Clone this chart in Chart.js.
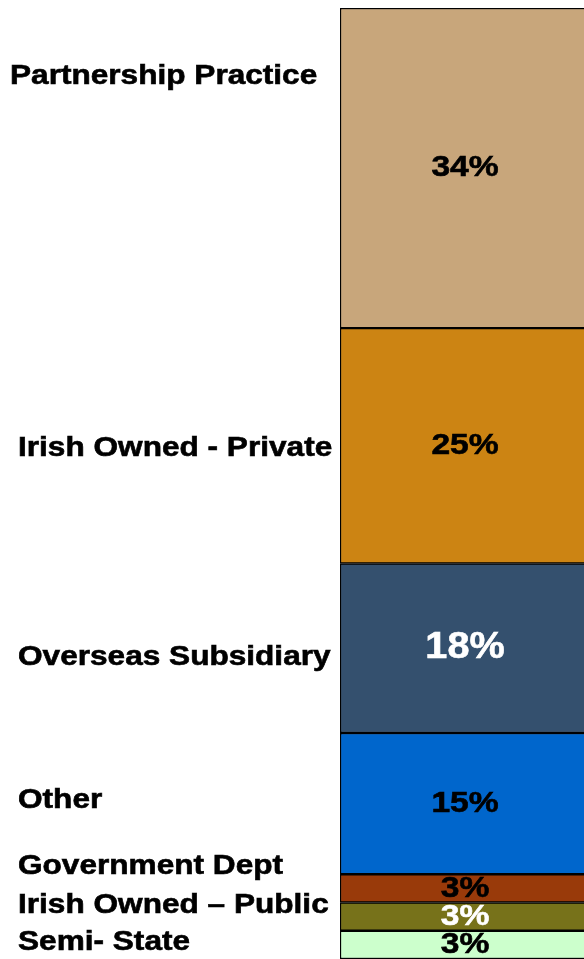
<!DOCTYPE html>
<html>
<head>
<meta charset="utf-8">
<script src="https://cdn.jsdelivr.net/npm/chart.js@4"></script>
<style>
    html, body { margin: 0; padding: 0; background: #ffffff; overflow: hidden; }
    .wrap { width: 600px; height: 959px; position: relative; }
</style>
</head>
<body>
<div class="wrap"><canvas id="shareChart" width="600" height="959"></canvas></div>
<script>
    // top to bottom
    const categories = ["Partnership Practice", "Irish Owned - Private", "Overseas Subsidiary", "Other", "Government Dept", "Irish Owned \u2013 Public", "Semi- State"];
    const shares = [34, 25, 18, 15, 3, 3, 3];
    const segmentColours = ["#c8a67b", "#cc8413", "#34506e", "#0066cc", "#993a0a", "#77721a", "#ccffcc"];
    const valueColours = ["#000000", "#000000", "#ffffff", "#000000", "#000000", "#ffffff", "#000000"];

    // nudges for the left-hand names, px relative to segment middle
    const nameOffsets = [-92, 3, 9, -3, -22, -11, -2];
    const nameIndent = [10, 18, 18, 18, 18, 18, 18];

    const font = "\"Liberation Sans\", Arial, sans-serif";

    // the original lettering is wider and a bit heavier than Liberation bold
    function wideText(ctx, text, x, y, stretch) {
        ctx.save();
        ctx.translate(x, y);
        ctx.scale(stretch, 1);
        ctx.fillText(text, 0, 0);
        ctx.strokeStyle = ctx.fillStyle;
        ctx.lineWidth = 0.6;
        ctx.strokeText(text, 0, 0);
        ctx.restore();
    }

    const segmentLabels = {
        id: "segmentLabels",
        afterDatasetsDraw(chart) {
            const ctx = chart.ctx;
            ctx.save();
            ctx.textBaseline = "middle";
            chart.data.datasets.forEach((ds, i) => {
                const bar = chart.getDatasetMeta(i).data[0];
                const idx = ds.catIndex;
                const mid = (bar.y + bar.base) / 2;
                const big = shares[idx] === 18;

                ctx.fillStyle = valueColours[idx];
                ctx.textAlign = "center";
                ctx.font = "bold " + (big ? 36 : 30) + "px " + font;
                wideText(ctx, shares[idx] + "%", bar.x, mid, big ? 1.1 : 1.12);

                ctx.fillStyle = "#000000";
                ctx.textAlign = "left";
                ctx.font = "bold 27px " + font;
                wideText(ctx, categories[idx], nameIndent[idx], mid + nameOffsets[idx], 1.17);
            });
            ctx.restore();
        }
    };

    // Chart.js stacks the first dataset at the bottom, so walk the list backwards
    const datasets = categories.map((name, i) => ({
        label: name,
        catIndex: i,
        data: [shares[i]],
        backgroundColor: segmentColours[i],
        borderColor: "#000000",
        borderWidth: 1.5,
        borderSkipped: false,
        barPercentage: 1,
        categoryPercentage: 1
    })).reverse();

    new Chart(document.getElementById("shareChart"), {
        type: "bar",
        data: { labels: [""], datasets },
        options: {
            responsive: false,
            animation: false,
            layout: { padding: { left: 340, right: 10, top: 8, bottom: 0 } },
            plugins: { legend: { display: false }, tooltip: { enabled: false } },
            scales: {
                x: { stacked: true, display: false },
                y: {
                    stacked: true,
                    display: false,
                    min: 0,
                    max: shares.reduce((a, b) => a + b, 0)
                }
            }
        },
        plugins: [segmentLabels]
    });
</script>
</body>
</html>
